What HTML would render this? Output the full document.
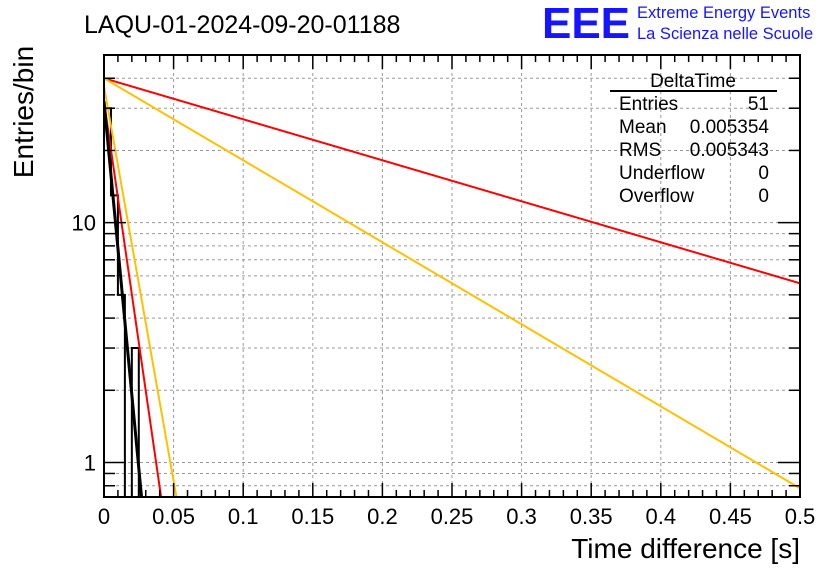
<!DOCTYPE html>
<html><head><meta charset="utf-8"><style>
body{margin:0;background:#fff;}
svg{display:block;font-family:"Liberation Sans",Arial,sans-serif;}
</style></head><body>
<svg id="c" width="836" height="572">
<text x="84" y="33" font-size="25">LAQU-01-2024-09-20-01188</text>
<text x="542" y="38" font-size="44" fill="#1515ff" font-weight="bold" textLength="88" lengthAdjust="spacingAndGlyphs">EEE</text>
<text x="637" y="18" font-size="16.5" fill="#1515ff">Extreme Energy Events</text>
<text x="637" y="39" font-size="16.5" fill="#1515ff">La Scienza nelle Scuole</text>
<text transform="translate(33,112) rotate(-90)" text-anchor="middle" font-size="28">Entries/bin</text>
<text x="800" y="558" text-anchor="end" font-size="28">Time difference [s]</text>
<g id="grid"></g><g id="series"></g><g id="axes"></g>
<g font-size="19">
<text x="693" y="87" text-anchor="middle">DeltaTime</text>
<line x1="610" y1="91" x2="777" y2="91" stroke="#000" stroke-width="2"/>
<text x="619" y="110">Entries</text><text x="769" y="110" text-anchor="end">51</text>
<text x="619" y="133">Mean</text><text x="769" y="133" text-anchor="end">0.005354</text>
<text x="619" y="156">RMS</text><text x="769" y="156" text-anchor="end">0.005343</text>
<text x="619" y="179">Underflow</text><text x="769" y="179" text-anchor="end">0</text>
<text x="619" y="202">Overflow</text><text x="769" y="202" text-anchor="end">0</text>
</g>
</svg>
<script>
const binWidth = 0.005;
const histValues = [30,13,5,0,3,0];
const fitAmplitudes = [40, 40, 32, 37, 32];
const fitTaus = [0.254, 0.127, 0.0108, 0.0132, 0.0071];
const fitColors = ["#ff0000", "#ffc000", "#ff0000", "#ffc000", "#000000"];
const fitWidths = [2, 2, 2, 2, 3];
const xTicks = [0,0.05,0.1,0.15,0.2,0.25,0.3,0.35,0.4,0.45,0.5];
const xTickLabels = ["0","0.05","0.1","0.15","0.2","0.25","0.3","0.35","0.4","0.45","0.5"];
const yMajor = [1,10];
const yMajorLabels = ["1","10"];
const yMinor = [0.8,0.9,2,3,4,5,6,7,8,9,20,30,40,50];

const X0=104,X1=800,Y0=55,Y1=497,YMIN=0.718,YMAX=50;
const sx=v=>X0+(v-0)/(0.5)*(X1-X0);
const sy=v=>Y1-(Math.log10(v)-Math.log10(YMIN))/(Math.log10(YMAX)-Math.log10(YMIN))*(Y1-Y0);
const NS="http://www.w3.org/2000/svg";
function mk(t,a,p){const e=document.createElementNS(NS,t);for(const k in a)e.setAttribute(k,a[k]);p.appendChild(e);return e;}
const grid=document.getElementById('grid'),ser=document.getElementById('series'),ax=document.getElementById('axes');
const gs={stroke:"#999","stroke-width":1,"stroke-dasharray":"3,3"};
xTicks.forEach(t=>{if(t>0&&t<0.5){const l=mk('line',Object.assign({x1:sx(t),x2:sx(t),y1:Y0,y2:Y1},gs),grid);

}});
yMajor.concat(yMinor).forEach(v=>{if(v>YMIN&&v<YMAX){const l=mk('line',Object.assign({x1:X0,x2:X1,y1:sy(v),y2:sy(v)},gs),grid);

}});
const clip=mk('clipPath',{id:'pc'},ser);mk('rect',{x:X0,y:Y0,width:X1-X0,height:Y1-Y0},clip);
// histogram
let d="M"+sx(0)+","+Y1;histValues.forEach((v,i)=>{const yy=v>0?sy(v):Y1+5;d+="L"+sx(i*binWidth)+","+yy+"L"+sx((i+1)*binWidth)+","+yy;});
d+="L"+sx(histValues.length*binWidth)+","+Y1;
const h=mk('path',{d:d,fill:"none",stroke:"#000","stroke-width":2,"clip-path":"url(#pc)"},ser);


// fits
fitAmplitudes.forEach((A,i)=>{let d="";for(let k=0;k<=2000;k++){const x=0.5*k/2000;const v=A*Math.exp(-x/fitTaus[i]);if(v<YMIN*0.9){d+=(k?"L":"M")+sx(x).toFixed(2)+","+sy(YMIN*0.9).toFixed(2);break;}d+=(k?"L":"M")+sx(x).toFixed(2)+","+sy(v).toFixed(2);}
const p=mk('path',{d:d,fill:"none",stroke:fitColors[i],"stroke-width":fitWidths[i],"clip-path":"url(#pc)"},ser);

});
const f=mk('rect',{x:X0,y:Y0,width:X1-X0,height:Y1-Y0,fill:"none",stroke:"#000","stroke-width":2},ax);


for(let k=0;k<=50;k++){const x=k*0.01;const len=k%5==0?14:7;
mk('line',{x1:sx(x),x2:sx(x),y1:Y1,y2:Y1-len,stroke:"#000","stroke-width":1.5},ax);
mk('line',{x1:sx(x),x2:sx(x),y1:Y0,y2:Y0+len,stroke:"#000","stroke-width":1.5},ax);}
xTicks.forEach((t,i)=>{const tx=mk('text',{x:sx(t),y:524,"text-anchor":"middle","font-size":22},ax);tx.textContent=xTickLabels[i];

});
yMajor.forEach((v,i)=>{mk('line',{x1:X0,x2:X0+22,y1:sy(v),y2:sy(v),stroke:"#000","stroke-width":1.5},ax);mk('line',{x1:X1,x2:X1-22,y1:sy(v),y2:sy(v),stroke:"#000","stroke-width":1.5},ax);
const tx=mk('text',{x:X0-8,y:sy(v)+8,"text-anchor":"end","font-size":22},ax);tx.textContent=yMajorLabels[i];

});
yMinor.forEach(v=>{if(v>YMIN&&v<=YMAX){mk('line',{x1:X0,x2:X0+11,y1:sy(v),y2:sy(v),stroke:"#000","stroke-width":1.5},ax);mk('line',{x1:X1,x2:X1-11,y1:sy(v),y2:sy(v),stroke:"#000","stroke-width":1.5},ax);}});
</script>
</body></html>
